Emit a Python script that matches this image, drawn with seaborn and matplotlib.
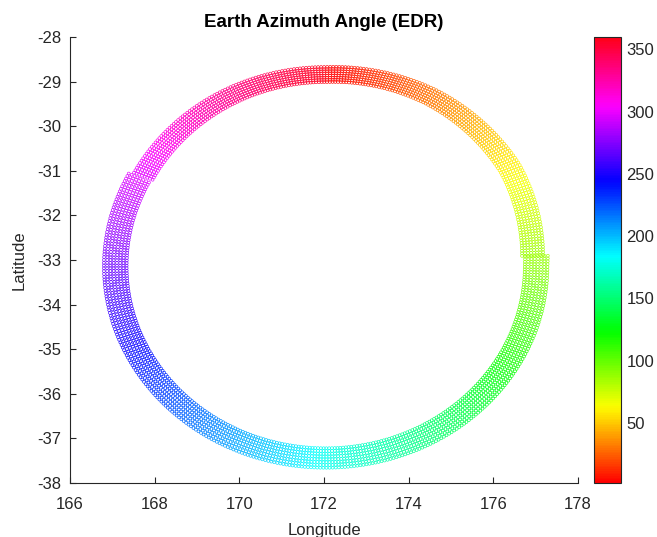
import numpy as np
import pandas as pd
import seaborn as sns
import matplotlib
matplotlib.use('Agg')
import matplotlib.pyplot as plt

# Ring geometry (degrees)
center_lon = 172.04
center_lat = -33.14
# southern pass, northern pass
radius_lon = [4.97, 4.88]
radius_lat = [4.30, 4.30]
half_width_lon = [0.27, 0.25]
half_width_lat = [0.22, 0.17]

# two overlapping passes of the swath (azimuth range, degrees clockwise from north)
pass_az_start = [87, 298]
pass_az_end = [298, 447]

# small bulge of the ring read at 30 degree steps of azimuth
knot_az = [0, 30, 60, 90, 120, 150, 180, 210, 240, 270, 300, 330]
knot_scale = [1.0, 1.02, 1.028, 1.0, 1.0, 1.0, 1.0, 1.0, 1.0, 1.0, 1.0, 1.0]

# scan layout of the footprints
n_tracks = 8
az_step = 0.8

x_ticks = [166, 168, 170, 172, 174, 176, 178]
y_ticks = [-38, -37, -36, -35, -34, -33, -32, -31, -30, -29, -28]
cbar_ticks = [50, 100, 150, 200, 250, 300, 350]
az_min, az_max = 1.7, 360

# Building the footprint table
rows = []
for i in range(len(pass_az_start)):
    az = np.arange(pass_az_start[i], pass_az_end[i], az_step)
    scale = np.interp(az % 360, knot_az, knot_scale, period=360)
    rad = np.deg2rad(az)
    for k in np.linspace(-1, 1, n_tracks):
        lon = center_lon + scale * (radius_lon[i] + k * half_width_lon[i]) * np.sin(rad)
        lat = center_lat + scale * (radius_lat[i] + k * half_width_lat[i]) * np.cos(rad)
        rows.append(pd.DataFrame({'lon': lon, 'lat': lat,
                                  'azimuth': np.clip(az % 360, az_min, az_max)}))
df = pd.concat(rows, ignore_index=True)

sns.set_style('white')
plt.rcParams['font.family'] = ['Liberation Sans', 'DejaVu Sans']
plt.rcParams['axes.unicode_minus'] = False
text_color = '#262626'

fig = plt.figure(figsize=(6.57, 5.37), dpi=100)
ax = fig.add_axes([0.1065, 0.1006, 0.7733, 0.8304])
cax = fig.add_axes([0.904, 0.1006, 0.041, 0.8304])

sns.scatterplot(data=df, x='lon', y='lat', hue='azimuth', palette='hsv',
                hue_norm=(az_min, az_max), marker='o', s=4,
                linewidth=0.45, legend=False, ax=ax)
# open circles: edge colour takes the hue
coll = ax.collections[0]
coll.set_edgecolors(coll.get_facecolors())
coll.set_facecolors('none')

ax.set_xlim(166, 178)
ax.set_ylim(-38, -28)
ax.set_xticks(x_ticks)
ax.set_yticks(y_ticks)
ax.tick_params(direction='in', length=4, width=0.8, colors=text_color,
               labelsize=12, top=False, right=False, bottom=True, left=True)
ax.tick_params(axis='x', pad=10)
ax.tick_params(axis='y', pad=6)
for side in ['top', 'right']:
    ax.spines[side].set_visible(False)
for side in ['left', 'bottom']:
    ax.spines[side].set_color(text_color)
    ax.spines[side].set_linewidth(0.8)
ax.set_xlabel('Longitude', fontsize=12, color=text_color, labelpad=8)
ax.set_ylabel('Latitude', fontsize=12, color=text_color, labelpad=8)
ax.set_title('Earth Azimuth Angle (EDR)', fontsize=13.5, fontweight='bold',
             color='black', pad=7)

sm = plt.cm.ScalarMappable(cmap='hsv', norm=plt.Normalize(az_min, az_max))
cb = fig.colorbar(sm, cax=cax)
cb.set_ticks(cbar_ticks)
cb.outline.set_edgecolor(text_color)
cb.outline.set_linewidth(0.8)
cax.tick_params(direction='in', length=4, width=0.8, colors=text_color,
                labelsize=12, right=True, left=False, pad=4)

fig.savefig('out.png', dpi=100)
